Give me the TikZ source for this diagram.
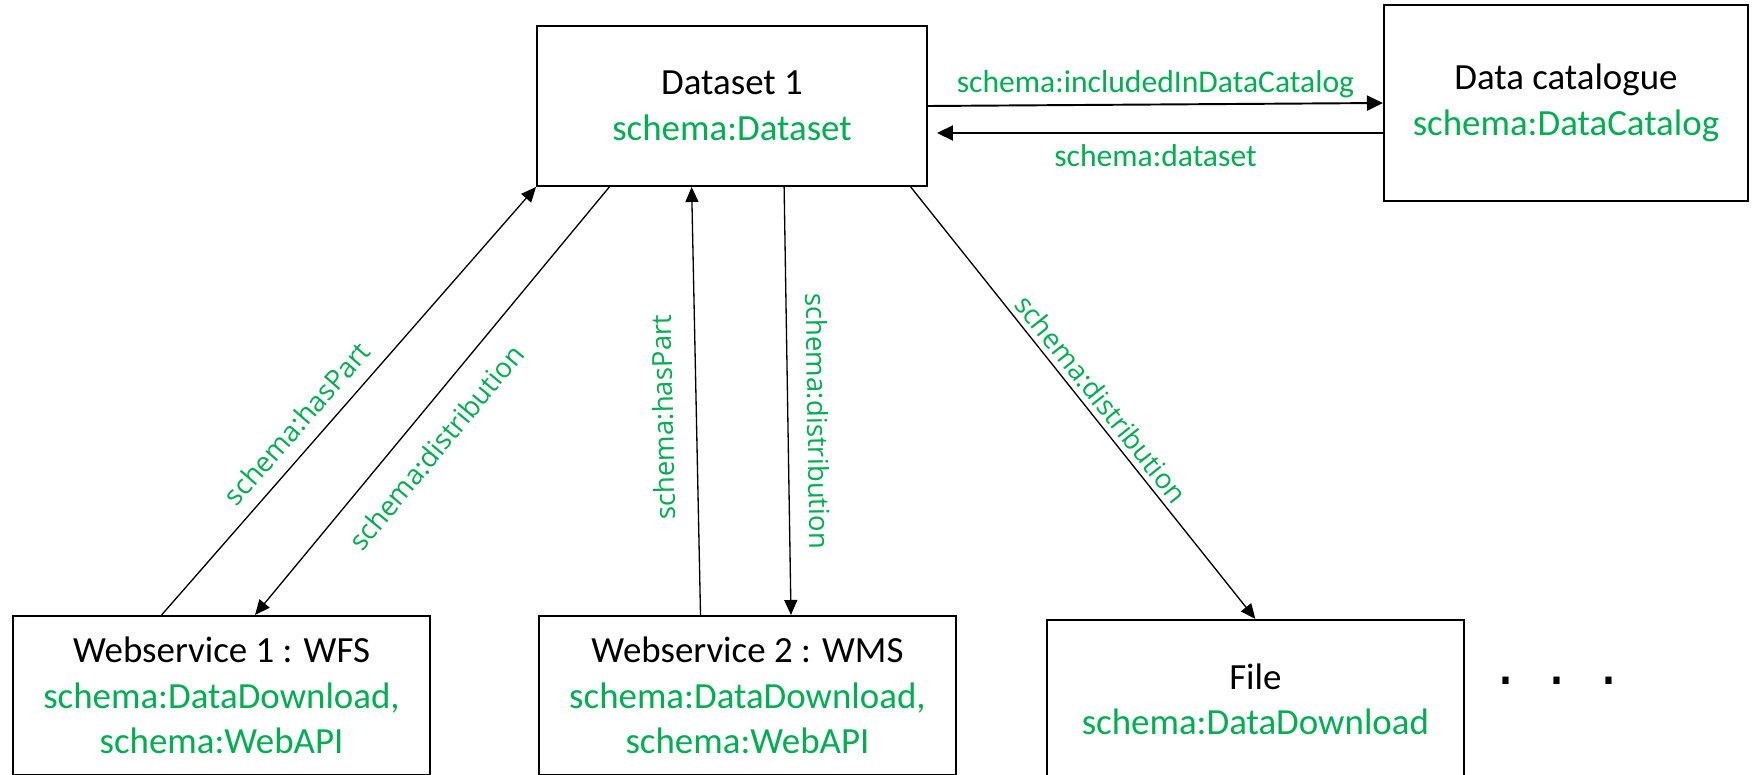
\documentclass[tikz,border=0pt]{standalone}
\usepackage{fontspec}
\setmainfont{Carlito}
\newfontfamily\edgefont{Open Sans}
\newfontfamily\dotfont{DejaVu Sans}
\usetikzlibrary{arrows.meta,positioning,calc}
\definecolor{schemagreen}{RGB}{0,176,80}
\newcommand{\sch}[1]{\textcolor{schemagreen}{#1}}
\tikzset{
  entity/.style  = {draw, rectangle, line width=1.1pt, align=center, inner sep=2pt,
                    font=\fontsize{21pt}{26pt}\selectfont},
  service/.style = {entity, minimum width=8.34cm, minimum height=3.18cm},
  post/.style    = {-{Triangle[length=0.3cm,width=0.26cm]}, line width=0.75pt},
  bigpost/.style = {-{Triangle[length=0.32cm,width=0.3cm]}, line width=1.1pt},
  rel/.style     = {text=schemagreen, inner sep=0pt, font=\edgefont\fontsize{15.7pt}{18pt}\selectfont},
  relh/.style    = {text=schemagreen, inner sep=0pt, font=\fontsize{18pt}{22pt}\selectfont}
}

\begin{document}
\begin{tikzpicture}
  \useasboundingbox (0,0) rectangle (35.04,-15.5);
  \node[entity, minimum width=7.8cm, minimum height=3.2cm] (dataset) at (14.64,-2.12)
    {Dataset 1\\\sch{schema:Dataset}};
  \node[entity, minimum width=7.28cm, minimum height=3.92cm] (catalog) [right=9.1cm of dataset, yshift=0.06cm]
    {Data catalogue\\\sch{schema:DataCatalog}};
  \node[service] (ws1) [below=8.56cm of dataset, xshift=-10.21cm]
    {Webservice 1 : WFS\\\sch{schema:DataDownload,}\\\sch{schema:WebAPI}};
  \node[service] (ws2) [right=2.14cm of ws1]
    {Webservice 2 : WMS\\\sch{schema:DataDownload,}\\\sch{schema:WebAPI}};
  \node[service] (file) [right=1.78cm of ws2, yshift=-0.08cm]
    {File\\\sch{schema:DataDownload}};
  \node[inner sep=0pt, font=\dotfont\fontsize{34pt}{34pt}\selectfont] (more) [right=0.62cm of file, yshift=0.37cm]
    {.\hspace{0.65cm}.\hspace{0.65cm}.};

  %Catalogue links
  \draw[bigpost] (dataset.east) -- (catalog.west)
    node[relh, midway, above=0.12cm] {schema:includedInDataCatalog};
  \draw[bigpost, shorten >=0.18cm] ([yshift=-0.6cm]catalog.west) -- ([yshift=-0.54cm]dataset.east)
    node[relh, midway, below=0.22cm] {schema:dataset};

  %Distribution links
  \draw[post] ($(ws1.north west)!0.357!(ws1.north east)$) -- (dataset.south west)
    node[rel, pos=0.41, sloped, above=0.26cm] {schema:hasPart};
  \draw[post] ($(dataset.south west)!0.187!(dataset.south east)$) -- ($(ws1.north west)!0.58!(ws1.north east)$)
    node[rel, pos=0.56, sloped, below=0.43cm] {schema:distribution};
  \draw[post] ($(ws2.north west)!0.388!(ws2.north east)$) -- ($(dataset.south west)!0.397!(dataset.south east)$)
    node[rel, pos=0.463, sloped, allow upside down, above=0.44cm] {schema:hasPart};
  \draw[post] ($(dataset.south west)!0.633!(dataset.south east)$) -- ($(ws2.north west)!0.604!(ws2.north east)$)
    node[rel, pos=0.548, sloped, above=0.38cm] {schema:distribution};
  \draw[post] ($(dataset.south west)!0.956!(dataset.south east)$) -- (file.north)
    node[rel, pos=0.515, sloped, above=0.11cm] {schema:distribution};
\end{tikzpicture}
\end{document}
